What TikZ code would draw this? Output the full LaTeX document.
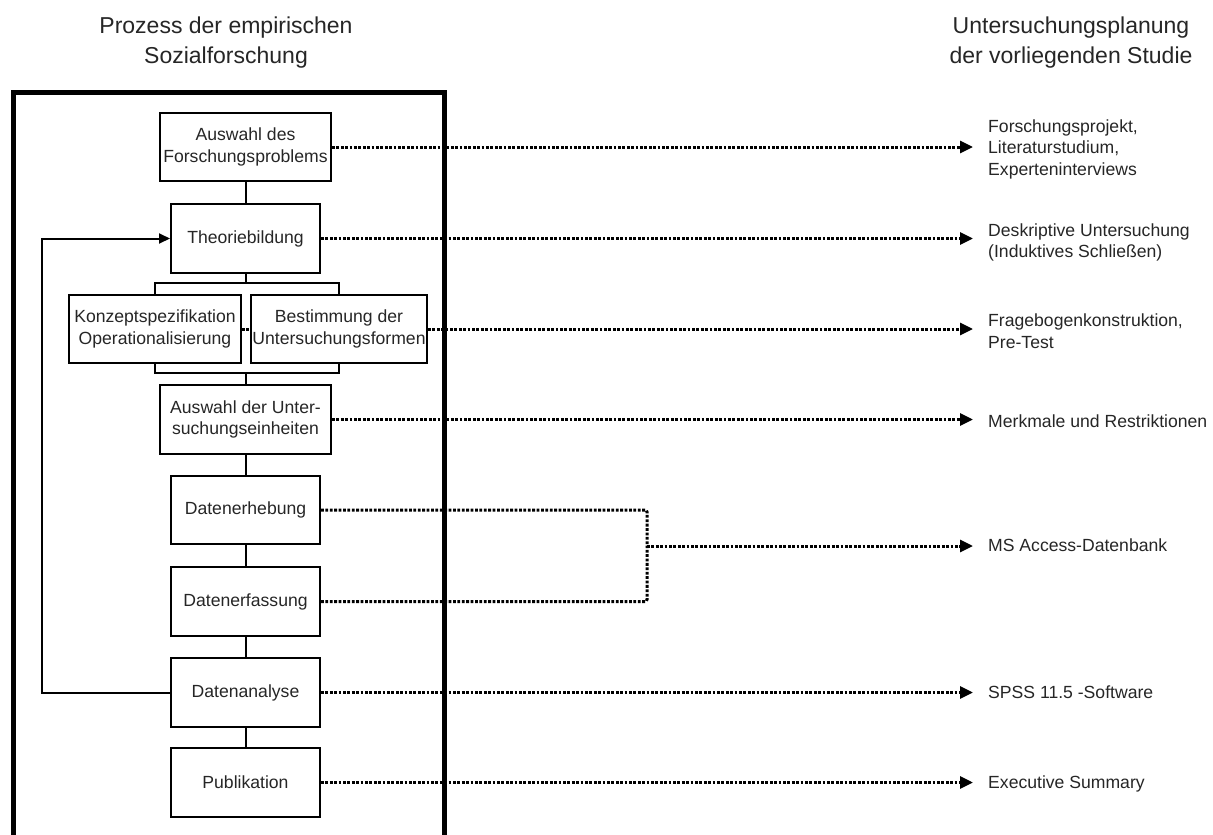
\documentclass[tikz,border=0pt]{standalone}
\usepackage{fontspec}
\setmainfont{Liberation Sans}
\usetikzlibrary{arrows.meta}
\begin{document}
\begin{tikzpicture}[x=1pt,y=-1pt,
  txt/.style={text=black!85, font=\fontsize{17.6}{21.5}\selectfont, inner sep=0pt, align=center},
  stepbox/.style={txt, draw=black, line width=2pt, minimum height=68pt, minimum width=#1},
  stepbox/.default=149pt,
  link/.style={line width=2pt},
  loop/.style={link, -{Triangle[length=11pt,width=10pt]}},
  dotline/.style={line width=3pt, dash pattern=on 2.8pt off 1.6pt},
  dotarrow/.style={dotline, -{Triangle[length=13pt,width=12pt]}, shorten >=15pt},
  result/.style={txt, align=left, anchor=west},
  heading/.style={text=black!85, font=\fontsize{23}{30}\selectfont, align=center, inner sep=0pt}]

\useasboundingbox (0,0) rectangle (1213,835);
\clip (0,0) rectangle (1213,835);
\fill[white] (0,0) rectangle (1213,835);

% column headings
\node[heading] (h1) at (226,43) {Prozess der empirischen\\Sozialforschung};
\node[heading] (h2) at (1071,43) {Untersuchungsplanung\\der vorliegenden Studie};

% frame around the research process
\draw[line width=5pt] (13,850) |- (444.5,92) -- (444.5,850);

% process steps
\node[stepbox=171pt] (b1) at (245.5,147) {Auswahl des\\Forschungsproblems};
\node[stepbox, minimum height=69pt] (b2) at (245.5,238.5) {Theoriebildung};
\node[stepbox=172pt] (k) at (155,329) {Konzeptspezifikation\\Operationalisierung};
\node[stepbox=176pt] (bs) at (339,329) {Bestimmung der\\Untersuchungsformen};
\node[stepbox=171pt, minimum height=69pt] (b4) at (245.5,419.5) {Auswahl der Unter-\\suchungseinheiten};
\node[stepbox] (b5) at (245.5,510) {Datenerhebung};
\node[stepbox, minimum height=69pt] (b6) at (245.5,601.5) {Datenerfassung};
\node[stepbox, minimum height=69pt] (b7) at (245.5,692.5) {Datenanalyse};
\node[stepbox, minimum height=69pt] (b8) at (245.5,782.5) {Publikation};

% solid connectors between the steps
\coordinate (s1) at (245.5,283);
\coordinate (s2) at (245.5,373);
\coordinate (fb) at (42,0);
\draw[link] (b1) -- (b2);
\draw[link] (b2.south) -- (s1);
\draw[link] (k.north) |- (s1) -| (bs.north);
\draw[link] (k.south) |- (s2) -| (bs.south);
\draw[link] (s2) -- (b4.north);
\draw[link] (b4) -- (b5);
\draw[link] (b5) -- (b6);
\draw[link] (b6) -- (b7);
\draw[link] (b7) -- (b8);
\draw[loop] (b7.west) -- (b7.west -| fb) |- (b2.west);

% planning of the study
\node[result] (l1) at (988,149) {Forschungsprojekt,\\Literaturstudium,\\Experteninterviews};
\node[result] (l2) at (988,242.5) {Deskriptive Untersuchung\\(Induktives Schließen)};
\node[result] (l3) at (988,331) {Fragebogenkonstruktion,\\Pre-Test};
\node[result] (l4) at (988,421) {Merkmale und Restriktionen};
\node[result] (l5) at (988,545) {MS Access-Datenbank};
\node[result] (l6) at (988,692) {SPSS 11.5 -Software};
\node[result] (l7) at (988,784) {Executive Summary};

% dotted assignments
\coordinate (m) at (647,546);
\draw[dotarrow] (b1.east) -- (b1.east -| l1.west);
\draw[dotarrow] (b2.east) -- (b2.east -| l2.west);
\draw[dotline] (k.east) -- (bs.west);
\draw[dotarrow] (bs.east) -- (bs.east -| l3.west);
\draw[dotarrow] (b4.east) -- (b4.east -| l4.west);
\draw[dotline, rounded corners=2pt] (b5.east) -| (m);
\draw[dotline, rounded corners=2pt] (b6.east) -| (m);
\draw[dotarrow] (m) -- (m -| l5.west);
\draw[dotarrow] (b7.east) -- (b7.east -| l6.west);
\draw[dotarrow] (b8.east) -- (b8.east -| l7.west);
\end{tikzpicture}
\end{document}
